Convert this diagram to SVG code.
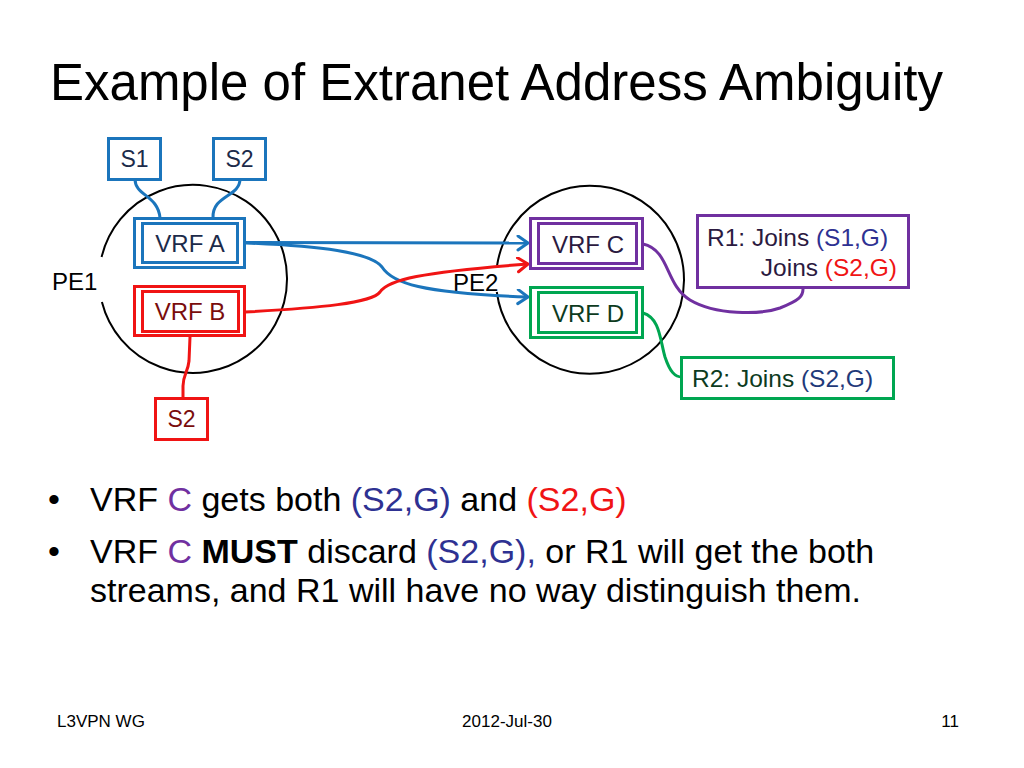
<svg xmlns="http://www.w3.org/2000/svg" width="1024" height="768" viewBox="0 0 1024 768">
<style>
text{font-family:"Liberation Sans",Arial,sans-serif}
.pe{fill:none;stroke:#000;stroke-width:2}
.box{fill:#fff;stroke-width:3}
.bl{stroke:#1b75bc}.rd{stroke:#f01414}.pu{stroke:#7030a0}.gr{stroke:#00a651}
.lbl{font-size:24px;text-anchor:middle}
.sl{font-size:23px;text-anchor:middle}
.con{fill:none;stroke-width:3}
.bul{font-size:34px;fill:#000}
.ft{font-size:17px;fill:#000}
</style>
<defs>
<marker id="ab" markerUnits="userSpaceOnUse" markerWidth="16" markerHeight="18" refX="12" refY="8" orient="auto">
<path d="M2,1 L12,8 L2,15" fill="none" stroke="#1b75bc" stroke-width="3" stroke-linecap="round" stroke-linejoin="round"/>
</marker>
<marker id="ar" markerUnits="userSpaceOnUse" markerWidth="16" markerHeight="18" refX="12" refY="8" orient="auto">
<path d="M2,1 L12,8 L2,15" fill="none" stroke="#f01414" stroke-width="3" stroke-linecap="round" stroke-linejoin="round"/>
</marker>
</defs>
<rect width="1024" height="768" fill="#fff"/>
<text x="50" y="100" font-size="51" fill="#000">Example of Extranet Address Ambiguity</text>

<g id="pe1">
<path class="pe" d="M101.6 257 A94 94 0 1 1 101.9 302"/>
<text x="52" y="290" font-size="24" fill="#000">PE1</text>
</g>
<g id="pe2">
<path class="pe" d="M497 266 A94 94 0 1 1 496.8 292"/>
<text x="453" y="291" font-size="24" fill="#000">PE2</text>
</g>

<g id="connectors">
<path class="con bl" d="M135 179 C135 196 158 195 160 218"/>
<path class="con bl" d="M240 179 C240 197 212 195 213 218"/>
<path class="con rd" d="M190 337 L189 361 C188 372 183 375 183 386 L183 398"/>
<path class="con bl" d="M246 242.5 L528 243" marker-end="url(#ab)"/>
<path class="con bl" d="M246 243 C320 246 370 252 382 267 C392 283 420 293 528 297" marker-end="url(#ab)"/>
<path class="con rd" d="M245 312 C320 308 372 303 380 292 C388 280 420 272 528 264" marker-end="url(#ar)"/>
<path class="con pu" d="M643 244 C670 250 665 285 690 300 C715 315 760 315 780 308 C800 300 803 296 803 289"/>
<path class="con gr" d="M643 313 C660 318 660 340 665 357 C670 372 675 377 682 377"/>
</g>

<g id="s1">
<rect class="box bl" x="108.5" y="138.5" width="52" height="41"/>
<text class="sl" x="134.5" y="167" fill="#1c2b4a">S1</text>
</g>
<g id="s2a">
<rect class="box bl" x="213.5" y="138.5" width="52" height="41"/>
<text class="sl" x="239.5" y="167" fill="#1c2b4a">S2</text>
</g>
<g id="vrfa">
<rect class="box bl" x="134.5" y="218.5" width="110" height="49"/>
<rect class="box bl" x="142.5" y="223.5" width="95" height="39"/>
<text class="lbl" x="190" y="252" fill="#1c2b4a">VRF A</text>
</g>
<g id="vrfb">
<rect class="box rd" x="134.5" y="286.5" width="110" height="49"/>
<rect class="box rd" x="142.5" y="291.5" width="96" height="40"/>
<text class="lbl" x="190" y="320" fill="#7a0c0c">VRF B</text>
</g>
<g id="s2b">
<rect class="box rd" x="155.5" y="398.5" width="52" height="41"/>
<text class="sl" x="181.5" y="427" fill="#7a0c0c">S2</text>
</g>
<g id="vrfc">
<rect class="box pu" x="530.5" y="218.5" width="112" height="50"/>
<rect class="box pu" x="538.5" y="223.5" width="98" height="40"/>
<text class="lbl" x="588" y="253" fill="#2b1a40">VRF C</text>
</g>
<g id="vrfd">
<rect class="box gr" x="530.5" y="287.5" width="112" height="50"/>
<rect class="box gr" x="538.5" y="292.5" width="98" height="40"/>
<text class="lbl" x="588" y="322" fill="#0d3b1e">VRF D</text>
</g>
<g id="r1">
<rect class="box pu" x="697.5" y="215.5" width="211" height="72"/>
<text x="707" y="246" font-size="24.5" fill="#2b1a40">R1: Joins <tspan fill="#2e3192">(S1,G)</tspan></text>
<text x="897" y="276" font-size="24.5" fill="#2b1a40" text-anchor="end">Joins <tspan fill="#f01414">(S2,G)</tspan></text>
</g>
<g id="r2">
<rect class="box gr" x="681.5" y="357.5" width="212" height="41"/>
<text x="692" y="387" font-size="24.5" fill="#0d3b1e">R2: Joins <tspan fill="#1f3a7a">(S2,G)</tspan></text>
</g>

<g id="bullets">
<text class="bul" x="48" y="511">•</text>
<text class="bul" x="90" y="511">VRF <tspan fill="#7030a0">C</tspan> gets both <tspan fill="#2e3192">(S2,G)</tspan> and <tspan fill="#f01414">(S2,G)</tspan></text>
<text class="bul" x="48" y="563">•</text>
<text class="bul" x="90" y="563">VRF <tspan fill="#7030a0">C</tspan> <tspan font-weight="bold">MUST</tspan> discard <tspan fill="#2e3192">(S2,G),</tspan> or R1 will get the both</text>
<text class="bul" x="90" y="602">streams, and R1 will have no way distinguish them.</text>
</g>

<g id="footer">
<text class="ft" x="57" y="727">L3VPN WG</text>
<text class="ft" x="507" y="727" text-anchor="middle">2012-Jul-30</text>
<text class="ft" x="959" y="727" text-anchor="end">11</text>
</g>
</svg>
